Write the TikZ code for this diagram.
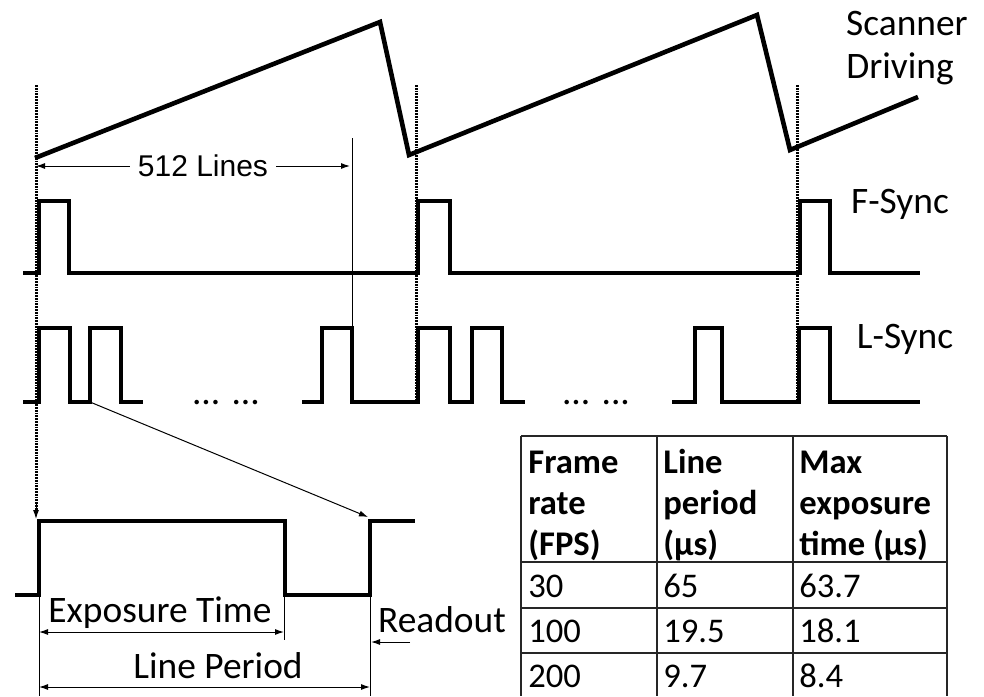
\documentclass[tikz,border=0pt]{standalone}
\usepackage{fontspec}
\setmainfont{Carlito}
\newfontfamily\arialfont{Liberation Sans}
\usetikzlibrary{arrows.meta}
\begin{document}
\begin{tikzpicture}[x=0.5pt,y=-0.5pt,
  wave/.style={line width=2.3pt},
  guide/.style={line width=1.5pt,dash pattern=on 0.9pt off 0.5pt},
  dim/.style={line width=0.5pt,>={Latex[length=4.5pt,width=3pt]}},
  lbl/.style={font=\fontsize{18.7}{21}\selectfont,inner sep=0pt,anchor=base},
  cell/.style={font=\fontsize{17.3}{20.5}\selectfont,inner sep=0pt,anchor=base west},
  head/.style={font=\fontsize{17.3}{20.5}\selectfont\bfseries,inner sep=0pt,align=left,anchor=north west},
  grid/.style={line width=0.7pt,black!85}]
\useasboundingbox (0,0) rectangle (984,696);
% scanner driving
\draw[wave](35,158)--(380,22)--(409,155)--(757,15)--(790,150)--(918,97);
\node[lbl](scan) at (907,35){Scanner};
\node[lbl](drive) at (900,78){Driving};
% frame marks
\coordinate(m1) at (36,85);
\coordinate(m2) at (416,85);
\coordinate(m3) at (797,85);
\draw[guide](m1)--(36,510);
\draw[dim,->](36,504)--(36,519);
\draw[guide](m2)--(416,400);
\draw[guide](m3)--(797,400);
%
\draw[wave](23,273)-|(39,201)-|(69,273)-|(418,201)-|(450,273)-|(800,201)-|(830,273)--(920,273);
\node[lbl](fsync) at (900,213){F-Sync};
%
\draw[wave](23,402)-|(39,328)-|(70,402)-|(90,328)-|(121,402)--(143,402);
\draw[wave](302,402)-|(322,328)-|(352,402)-|(418,328)-|(450,402)-|(472,328)-|(502,402)--(525,402);
\draw[wave](672,402)-|(695,328)-|(722,402)-|(799,328)-|(830,402)--(920,402);
\node[lbl](lsync) at (905,348){L-Sync};
\node[lbl](dots1) at (226,404){... ...};
\node[lbl](dots2) at (596,404){... ...};
% 512 lines
\coordinate(l512) at (352,328);
\draw[dim](352,138)--(l512);
\draw[dim,<->](m1|-0,166)--(350,166);
\node[fill=white,inner sep=4pt,font=\arialfont\fontsize{15}{18}\selectfont](lines) at (203,166){512 Lines};
% one line
\coordinate(l2) at (90,402);
\coordinate(rd) at (370,521);
\draw[wave](15,595)-|(39,521)-|(285,595)-|(rd)--(415,521);
\draw[dim,->](l2)--(368,517);
%
\draw[dim](39,597)--(39,696);
\draw[dim](284,597)--(284,640);
\draw[dim](370,597)--(370,696);
\draw[dim,<->](39,632)--(284,632);
\draw[dim,<->](39,687)--(370,687);
\draw[dim,->](410,642)--(371,642);
\node[lbl](exp) at (160,622){Exposure Time};
\node[lbl](per) at (218,678){Line Period};
\node[lbl](rdo) at (442,632){Readout};
% table
\draw[grid](521,436)--(947,436);
\draw[grid](521,562)--(947,562);
\draw[grid](521,608)--(947,608);
\draw[grid](521,653)--(947,653);
\draw[grid](521,436)--(521,696);
\draw[grid](657,436)--(657,696);
\draw[grid](793,436)--(793,696);
\draw[grid](947,436)--(947,696);
\node[head](h1) at (528,449){\vphantom{Ml}Frame\\rate\\(FPS)};
\node[head](h2) at (663,449){\vphantom{Ml}Line\\period\\(µs)};
\node[head](h3) at (799,449){\vphantom{Ml}Max\\exposure\\time (µs)};
\node[cell](a1) at (528,597){30};
\node[cell](b1) at (663,597){65};
\node[cell](c1) at (799,597){63.7};
\node[cell](a2) at (528,642){100};
\node[cell](b2) at (663,642){19.5};
\node[cell](c2) at (799,642){18.1};
\node[cell](a3) at (528,687){200};
\node[cell](b3) at (663,687){9.7};
\node[cell](c3) at (799,687){8.4};
\end{tikzpicture}
\end{document}
